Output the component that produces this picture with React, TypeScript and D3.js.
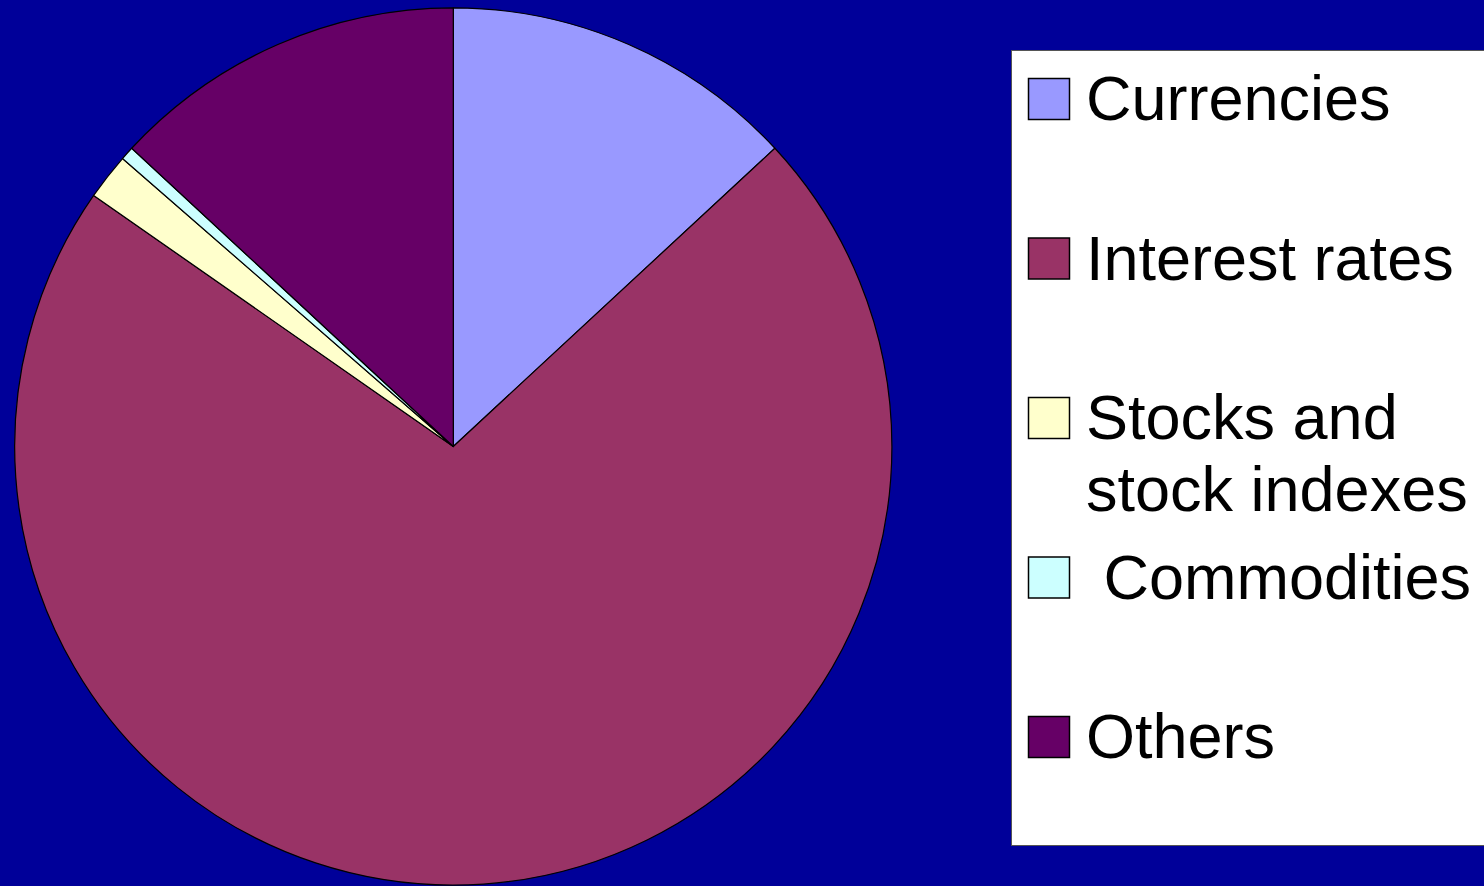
import React from "react";
import * as d3 from "d3";

const categories = ["Currencies", "Interest rates", "Stocks and stock indexes", "Commodities", "Others"];
const values = [13.1, 71.6, 1.7, 0.5, 13.1];
const colors = ["#9999FF", "#993366", "#FFFFCC", "#CCFFFF", "#660066"];
const legendLines = [["Currencies"], ["Interest rates"], ["Stocks and", "stock indexes"], [" Commodities"], ["Others"]];

const W = 1484;
const H = 886;

export default function App() {
  const cx = 453.3;
  const cy = 446.5;
  const r = 438.6;
  const data = categories.map((c, i) => ({ name: c, value: values[i], color: colors[i] }));
  const pie = d3.pie<any>().value((d: any) => d.value).sort(null).startAngle(0).endAngle(2 * Math.PI);
  const arcs = pie(data);
  const arc = d3.arc<any>().innerRadius(0).outerRadius(r);

  const legendX = 1011.5;
  const legendY = 50.5;
  const itemStep = 159.5;
  const firstBaseline = 120;
  const swatch = 41;
  const textX = 1086;
  const fontSize = 63;

  return (
    <svg
      width={W}
      height={H}
      style={{ position: "fixed", left: 0, top: 0, display: "block" }}
      xmlns="http://www.w3.org/2000/svg"
    >
      <rect x={0} y={0} width={W} height={H} fill="#000099" />
      <g transform={`translate(${cx},${cy})`}>
        {arcs.map((a, i) => (
          <path key={i} d={arc(a) as string} fill={a.data.color} stroke="#000" strokeWidth={1.2} strokeLinejoin="round" />
        ))}
      </g>
      <rect x={legendX} y={legendY} width={W - legendX + 10} height={795} fill="#FFFFFF" stroke="#555" strokeWidth={1} />
      {legendLines.map((lines, i) => {
        const base = firstBaseline + i * itemStep;
        return (
          <g key={i}>
            <rect x={1028.5} y={base - swatch - 0.5} width={swatch} height={swatch} fill={colors[i]} stroke="#000" strokeWidth={1.5} />
            {lines.map((t, j) => (
              <text
                key={j}
                x={textX}
                y={base + j * 72}
                fontFamily="'Liberation Sans', Arial, Helvetica, sans-serif"
                fontSize={fontSize}
                fill="#000"
                style={{ whiteSpace: "pre" }}
              >
                {t}
              </text>
            ))}
          </g>
        );
      })}
    </svg>
  );
}
